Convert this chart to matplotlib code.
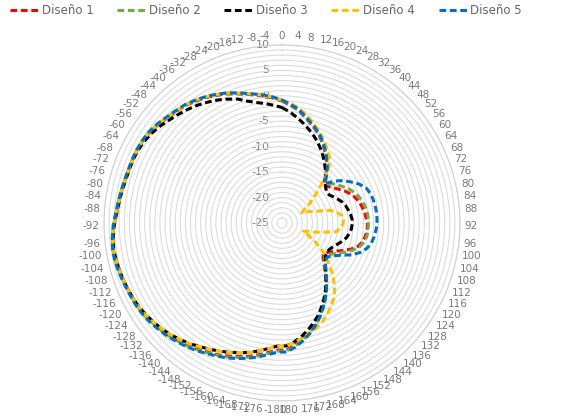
import numpy as np
import matplotlib
matplotlib.use("Agg")
import matplotlib.pyplot as plt

# categories (angles in degrees), clockwise from the top
angles = list(range(0, 181, 4)) + list(range(-180, 0, 4))

d1 = [-1.0, -1.8, -2.5, -3.6, -4.6, -5.5, -6.5, -7.6, -8.8, -10.0, -11.2, -12.6,
      -14.0, -13.5, -12.8, -12.0, -11.1, -10.3, -9.7, -9.2, -8.9, -8.6, -8.4, -8.2,
      -8.2, -8.4, -8.7, -9.3, -10.5, -12.0, -13.4, -14.3, -14.8, -14.4, -13.4, -12.2,
      -10.8, -9.4, -8.0, -6.6, -5.2, -4.0, -2.8, -1.7, -0.8, 0.0,
      0.0, 0.6, 1.3, 2.0, 2.6, 3.2, 3.8, 4.3, 4.8, 5.4, 5.9, 6.4, 6.8, 7.2, 7.6,
      7.8, 7.9, 8.1, 8.3, 8.5, 8.6, 8.4, 8.1, 7.6, 7.4, 7.2, 7.0, 6.9, 6.9, 6.9,
      6.8, 6.5, 6.1, 5.6, 5.2, 4.9, 4.4, 3.9, 3.3, 2.7, 2.0, 1.3, 0.7, 0.2, -0.4]

d2 = [-0.9, -1.7, -2.4, -3.5, -4.5, -5.4, -6.4, -7.5, -8.7, -9.9, -11.1, -12.4,
      -13.4, -12.6, -11.8, -11.0, -10.2, -9.5, -9.0, -8.6, -8.3, -8.1, -8.0, -8.0,
      -8.0, -8.1, -8.4, -9.0, -10.0, -11.3, -12.6, -13.6, -14.3, -14.1, -13.2, -12.0,
      -10.6, -9.2, -7.8, -6.4, -5.0, -3.8, -2.6, -1.5, -0.6, 0.2,
      0.2, 0.8, 1.5, 2.2, 2.8, 3.4, 3.9, 4.4, 5.0, 5.5, 6.0, 6.5, 6.9, 7.3, 7.7,
      7.9, 8.0, 8.2, 8.4, 8.6, 8.6, 8.4, 8.1, 7.7, 7.4, 7.2, 7.0, 6.9, 6.9, 6.9,
      6.8, 6.6, 6.2, 5.7, 5.3, 5.0, 4.5, 4.0, 3.4, 2.8, 2.1, 1.4, 0.8, 0.3, -0.3]

d3 = [-2.3, -3.1, -4.0, -4.9, -5.8, -6.7, -7.6, -8.6, -9.6, -10.6, -11.6, -12.6,
      -13.4, -14.0, -14.3, -14.2, -13.6, -13.0, -12.4, -12.0, -11.7, -11.4, -11.2, -11.2,
      -11.3, -11.6, -12.0, -12.6, -13.3, -13.9, -14.3, -14.5, -14.3, -13.8, -13.0, -12.0,
      -10.8, -9.5, -8.2, -6.9, -5.6, -4.5, -3.4, -2.4, -1.5, -0.8,
      -0.8, -0.2, 0.5, 1.2, 1.8, 2.4, 3.0, 3.6, 4.2, 4.9, 5.5, 6.1, 6.6, 7.0, 7.4,
      7.7, 7.9, 8.1, 8.3, 8.4, 8.5, 8.3, 8.0, 7.6, 7.3, 7.1, 6.9, 6.8, 6.8, 6.7,
      6.5, 6.1, 5.6, 5.0, 4.5, 4.0, 3.5, 2.9, 2.3, 1.6, 0.9, -0.1, -0.8, -1.3, -1.8]

d4 = [-0.8, -1.4, -2.1, -3.0, -4.0, -5.0, -6.0, -7.0, -8.0, -9.0, -10.4, -12.6,
      -15.3, -17.0, -18.5, -20.0, -20.6, -19.2, -17.8, -15.2, -14.0, -13.1, -12.9, -13.0,
      -13.5, -14.1, -16.8, -19.0, -20.5, -19.5, -17.8, -16.2, -14.5, -13.0, -11.2, -9.6,
      -8.0, -6.8, -5.8, -4.8, -3.9, -3.2, -2.6, -2.0, -1.4, -0.8,
      -0.8, -0.2, 0.5, 1.2, 1.8, 2.4, 3.0, 3.6, 4.3, 4.9, 5.5, 6.1, 6.6, 7.1, 7.5,
      7.8, 7.9, 8.1, 8.3, 8.5, 8.6, 8.4, 8.1, 7.7, 7.4, 7.2, 7.0, 6.9, 6.9, 6.9,
      6.8, 6.6, 6.2, 5.7, 5.3, 5.0, 4.6, 4.1, 3.5, 2.9, 2.2, 1.5, 0.9, 0.4, -0.2]

d5 = [-0.8, -1.6, -2.3, -3.4, -4.4, -5.3, -6.3, -7.4, -8.6, -9.8, -11.0, -12.3,
      -13.6, -11.8, -10.3, -9.2, -8.0, -7.1, -6.7, -6.5, -6.4, -6.3, -6.3, -6.3,
      -6.5, -6.7, -7.0, -7.6, -8.6, -10.0, -11.8, -13.0, -13.8, -13.8, -13.0, -11.9,
      -10.6, -9.2, -7.8, -6.4, -5.0, -3.7, -2.5, -1.4, -0.4, 0.4,
      0.4, 1.0, 1.7, 2.4, 3.0, 3.6, 4.1, 4.6, 5.2, 5.7, 6.2, 6.7, 7.1, 7.5, 7.8,
      8.0, 8.1, 8.3, 8.5, 8.7, 8.7, 8.5, 8.2, 7.8, 7.5, 7.3, 7.1, 7.0, 7.0, 7.0,
      6.9, 6.7, 6.3, 5.8, 5.4, 5.1, 4.6, 4.1, 3.5, 2.9, 2.2, 1.5, 0.9, 0.4, -0.2]

names = ['Diseño 1', 'Diseño 2', 'Diseño 3', 'Diseño 4', 'Diseño 5']
colors = ['#ff0000', '#70ad47', '#000000', '#ffc000', '#0070c0']
r_ticks = list(range(-25, 11, 5))

n = len(angles)
theta = np.arange(n) * 2 * np.pi / n
theta_c = np.append(theta, theta[0])

fig = plt.figure(figsize=(5.78, 4.16), dpi=100)
ax = fig.add_axes([0.1799, 0.0361, 0.6159, 0.8558], projection='polar')
ax.set_theta_zero_location('N')
ax.set_theta_direction(-1)
ax.set_ylim(-25, 10)

# radial grid every 1 unit, no spokes
ax.set_yticks(range(-25, 11, 1))
ax.set_yticklabels([])
ax.set_xticks([])
ax.yaxis.grid(True, color='#dcdcdc', lw=0.8)
ax.spines['polar'].set_color('#d0d0d0')
ax.spines['polar'].set_linewidth(0.8)

for v in r_ticks:
    ax.annotate(str(v), xy=(0, v), xytext=(-9, 0), textcoords='offset points',
                ha='right', va='center', fontsize=8, color='#808080', zorder=1)

for t, a in zip(theta, angles):
    s, c = np.sin(t), np.cos(t)
    ha = 'left' if s > 0.05 else ('right' if s < -0.05 else 'center')
    va = 'bottom' if c > 0.05 else ('top' if c < -0.05 else 'center')
    ax.annotate(str(a), xy=(t, 10), xytext=(3 * s, 3 * c),
                textcoords='offset points', ha=ha, va=va,
                fontsize=7.5, color='#7a7a7a', annotation_clip=False)

for vals, name, col in zip([d1, d2, d3, d4, d5], names, colors):
    vv = np.append(vals, vals[0])
    ax.plot(theta_c, vv, color=col, lw=2.2, ls=(0, (2.2, 1.2)), label=name, zorder=3)

fig.legend(loc='center', bbox_to_anchor=(0.46, 0.975), ncol=5, frameon=False,
           fontsize=8.5, handlelength=2.4, columnspacing=2.0, handletextpad=0.3,
           labelcolor='#666666')

fig.savefig('out.png', dpi=100)
